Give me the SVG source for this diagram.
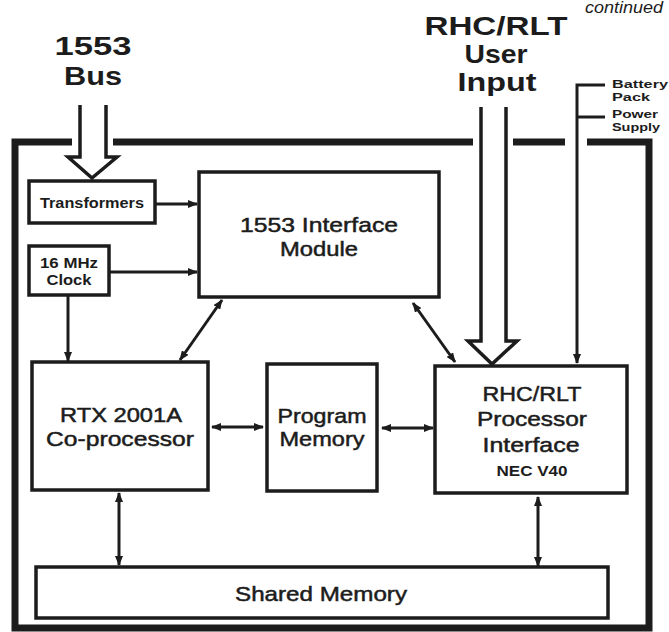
<svg xmlns="http://www.w3.org/2000/svg" width="669" height="632" viewBox="0 0 669 632">
  <style>
    .box { fill: #fff; stroke: #1c1c1c; stroke-width: 3.5; }
    .frame { fill: none; stroke: #1c1c1c; stroke-width: 7; stroke-linejoin: miter; }
    .conn { fill: none; stroke: #1c1c1c; stroke-width: 3; }
    .big { fill: #fff; stroke: #1c1c1c; stroke-width: 3.5; stroke-linejoin: miter; }
    text { font-family: "Liberation Sans", Arial, sans-serif; fill: #1c1c1c; text-anchor: middle; }
    .title { font-size: 26px; font-weight: bold; }
    .lbl { font-size: 21px; stroke: #1c1c1c; stroke-width: 0.5; }
    .small { font-size: 14px; font-weight: bold; }
    .side { font-size: 11px; font-weight: bold; text-anchor: start; }
    .cont { font-size: 16px; font-style: italic; }
  </style>
  <defs>
    <marker id="ah" viewBox="0 0 10 8" refX="9" refY="4" markerWidth="10" markerHeight="8" markerUnits="userSpaceOnUse" orient="auto-start-reverse">
      <path d="M0,0 L10,4 L0,8 z" fill="#1c1c1c"/>
    </marker>
  </defs>
  <rect width="669" height="632" fill="#fff"/>

  <g id="frame">
    <path class="frame" d="M72,142 H15 V628 H649 V142 H587"/>
    <path class="frame" d="M113,142 H473 M513,142 H565"/>
  </g>

  <g id="headings">
    <text class="cont" x="624" y="13" textLength="78" lengthAdjust="spacingAndGlyphs">continued</text>
    <text class="title" x="93" y="55" textLength="77" lengthAdjust="spacingAndGlyphs">1553</text>
    <text class="title" x="93" y="85" textLength="58" lengthAdjust="spacingAndGlyphs">Bus</text>
    <text class="title" x="496" y="35" textLength="143" lengthAdjust="spacingAndGlyphs">RHC/RLT</text>
    <text class="title" x="496" y="63" textLength="63" lengthAdjust="spacingAndGlyphs">User</text>
    <text class="title" x="497" y="91" textLength="79" lengthAdjust="spacingAndGlyphs">Input</text>
    <text class="side" x="612" y="88" textLength="56" lengthAdjust="spacingAndGlyphs">Battery</text>
    <text class="side" x="612" y="101" textLength="38" lengthAdjust="spacingAndGlyphs">Pack</text>
    <text class="side" x="612" y="118" textLength="46" lengthAdjust="spacingAndGlyphs">Power</text>
    <text class="side" x="612" y="131" textLength="48" lengthAdjust="spacingAndGlyphs">Supply</text>
  </g>

  <g id="transformers">
    <rect class="box" x="29" y="181" width="126" height="42"/>
    <text class="small" x="92" y="208" textLength="104" lengthAdjust="spacingAndGlyphs">Transformers</text>
  </g>
  <g id="clock">
    <rect class="box" x="29" y="246" width="80" height="49"/>
    <text class="small" x="69" y="268" textLength="58" lengthAdjust="spacingAndGlyphs">16 MHz</text>
    <text class="small" x="69" y="285" textLength="45" lengthAdjust="spacingAndGlyphs">Clock</text>
  </g>
  <g id="interface1553">
    <rect class="box" x="199" y="172" width="240" height="125"/>
    <text class="lbl" x="319" y="232" textLength="158" lengthAdjust="spacingAndGlyphs">1553 Interface</text>
    <text class="lbl" x="319" y="256" textLength="78" lengthAdjust="spacingAndGlyphs">Module</text>
  </g>
  <g id="rtx">
    <rect class="box" x="32" y="362" width="176" height="128"/>
    <text class="lbl" x="121" y="422" textLength="122" lengthAdjust="spacingAndGlyphs">RTX 2001A</text>
    <text class="lbl" x="120" y="446" textLength="148" lengthAdjust="spacingAndGlyphs">Co-processor</text>
  </g>
  <g id="program">
    <rect class="box" x="267" y="364" width="110" height="127"/>
    <text class="lbl" x="322" y="423" textLength="89" lengthAdjust="spacingAndGlyphs">Program</text>
    <text class="lbl" x="322" y="446" textLength="85" lengthAdjust="spacingAndGlyphs">Memory</text>
  </g>
  <g id="rhc">
    <rect class="box" x="435" y="366" width="192" height="127"/>
    <text class="lbl" x="532" y="401" textLength="99" lengthAdjust="spacingAndGlyphs">RHC/RLT</text>
    <text class="lbl" x="532" y="426" textLength="110" lengthAdjust="spacingAndGlyphs">Processor</text>
    <text class="lbl" x="531" y="452" textLength="97" lengthAdjust="spacingAndGlyphs">Interface</text>
    <text class="small" x="532" y="476" textLength="71" lengthAdjust="spacingAndGlyphs">NEC V40</text>
  </g>
  <g id="shared">
    <rect class="box" x="36" y="567" width="572" height="51"/>
    <text class="lbl" x="321" y="601" textLength="172" lengthAdjust="spacingAndGlyphs">Shared Memory</text>
  </g>

  <g id="connectors">
    <path class="big" d="M80,105 V157 H68 L92,178 L117,157 H106 V105"/>
    <path class="big" d="M481,107 V341 H468 L492,364 L517,341 H506 V107"/>
    <path class="conn" d="M605,85 H577 V363" marker-end="url(#ah)"/>
    <path class="conn" d="M577,117 H605"/>
    <path class="conn" d="M155,204 H197" marker-end="url(#ah)"/>
    <path class="conn" d="M109,272 H197" marker-end="url(#ah)"/>
    <path class="conn" d="M68,296 V361" marker-end="url(#ah)"/>
    <path class="conn" d="M222,300 L180,360" marker-start="url(#ah)" marker-end="url(#ah)"/>
    <path class="conn" d="M413,303 L455,362" marker-start="url(#ah)" marker-end="url(#ah)"/>
    <path class="conn" d="M212,427 H263" marker-start="url(#ah)" marker-end="url(#ah)"/>
    <path class="conn" d="M382,428 H433" marker-start="url(#ah)" marker-end="url(#ah)"/>
    <path class="conn" d="M119,493 V565" marker-start="url(#ah)" marker-end="url(#ah)"/>
    <path class="conn" d="M538,497 V566" marker-start="url(#ah)" marker-end="url(#ah)"/>
  </g>
</svg>
